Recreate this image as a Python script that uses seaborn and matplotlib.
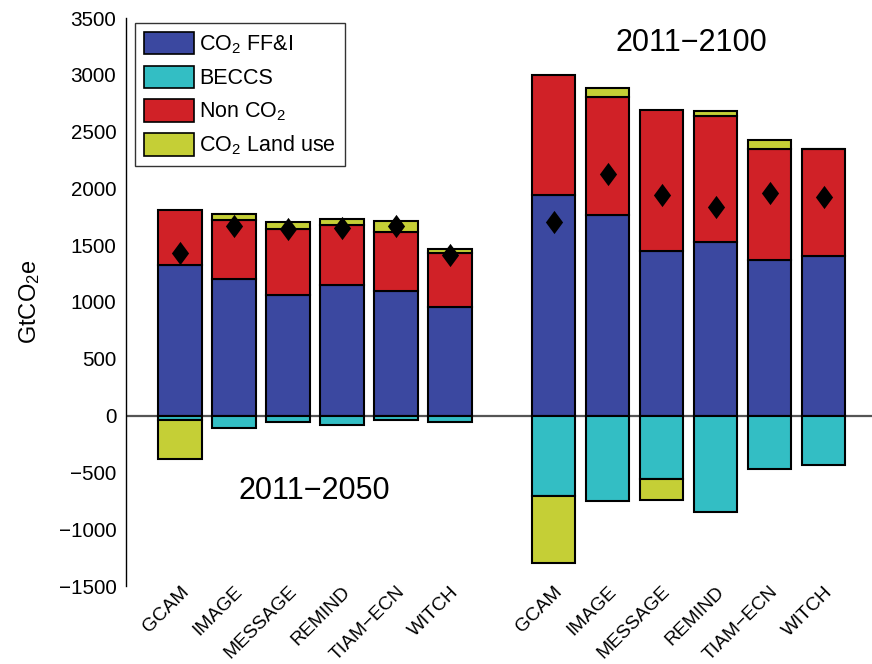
import numpy as np
import matplotlib
matplotlib.use("Agg")
import matplotlib.pyplot as plt
from matplotlib.path import Path
from matplotlib.patches import Patch
import seaborn as sns

# Cumulative emissions by model (GtCO2e)
models = ["GCAM", "IMAGE", "MESSAGE", "REMIND", "TIAM\u2212ECN", "WITCH"]
periods = ["2011\u22122050", "2011\u22122100"]

ffi_2050 = [1322, 1199, 1064, 1152, 1097, 956]
beccs_2050 = [-35, -108, -56, -79, -35, -53]
nonco2_2050 = [484, 519, 578, 525, 515, 472]
landuse_2050 = [-343, 56, 58, 50, 97, 41]
net_2050 = [1431, 1671, 1645, 1651, 1671, 1416]

ffi_2100 = [1938, 1768, 1451, 1525, 1372, 1407]
beccs_2100 = [-710, -754, -557, -850, -472, -434]
nonco2_2100 = [1064, 1035, 1243, 1114, 974, 939]
landuse_2100 = [-586, 85, -188, 41, 79, 0]
net_2100 = [1703, 2131, 1944, 1832, 1956, 1920]

labels = ["CO$_2$ FF&I", "BECCS", "Non CO$_2$", "CO$_2$ Land use"]
colors = ["#3b48a0", "#33bec4", "#d02127", "#c5cf36"]

sns.set_theme(style="white")
plt.rcParams["font.family"] = ["Liberation Sans", "DejaVu Sans"]
plt.rcParams["mathtext.fontset"] = "custom"
plt.rcParams["mathtext.rm"] = "Liberation Sans"
plt.rcParams["mathtext.it"] = "Liberation Sans:italic"
plt.rcParams["axes.unicode_minus"] = True
for key in ["text.color", "axes.labelcolor", "xtick.color", "ytick.color"]:
    plt.rcParams[key] = "black"

W_PX, H_PX = 872, 664
fig = plt.figure(figsize=(W_PX / 100, H_PX / 100), dpi=100)
ax = fig.add_axes([126 / W_PX, 1 - 586 / H_PX, 746 / W_PX, 568 / H_PX])

x1 = np.arange(1, 7, dtype=float)
x2 = x1 + 6.92
xs = np.concatenate([x1, x2])

ffi = np.array(ffi_2050 + ffi_2100, dtype=float)
beccs = np.array(beccs_2050 + beccs_2100, dtype=float)
nonco2 = np.array(nonco2_2050 + nonco2_2100, dtype=float)
landuse = np.array(landuse_2050 + landuse_2100, dtype=float)
net = np.array(net_2050 + net_2100, dtype=float)

ax.axhline(0, color="#555555", lw=1.6, zorder=1)

W = 0.8
kw = dict(width=W, edgecolor="black", linewidth=1.5, zorder=2)
ax.bar(xs, ffi, color=colors[0], **kw)
ax.bar(xs, beccs, color=colors[1], **kw)
ax.bar(xs, nonco2, bottom=ffi, color=colors[2], **kw)
lu_bottom = np.where(landuse >= 0, ffi + nonco2, beccs)
ax.bar(xs, landuse, bottom=lu_bottom, color=colors[3], **kw)

# Net total marker: a tall diamond
diamond = Path([(0, 1), (0.74, 0), (0, -1), (-0.74, 0), (0, 1)],
               [Path.MOVETO, Path.LINETO, Path.LINETO, Path.LINETO, Path.CLOSEPOLY])
sns.scatterplot(x=xs, y=net, marker=diamond, s=280, color="black",
                edgecolor="black", linewidth=0, zorder=4, ax=ax, legend=False)

ax.set_xlim(0, 746 / 54)
ax.set_ylim(-1500, 3500)
ax.set_yticks(np.arange(-1500, 3501, 500))
ax.tick_params(axis="y", length=0, pad=7, labelsize=14.9)
ax.set_xticks(xs)
ax.set_xticklabels(models * 2, rotation=45, ha="right", va="top",
                   rotation_mode="anchor", fontsize=13.8)
ax.tick_params(axis="x", length=0, pad=-2)

for side in ["top", "right", "bottom"]:
    ax.spines[side].set_visible(False)
ax.spines["left"].set_color("black")
ax.spines["left"].set_linewidth(1.0)

ax.set_ylabel("GtCO$_2$e", fontsize=17, labelpad=12)

fig.text(691 / W_PX, 1 - 43 / H_PX, periods[1], fontsize=22, ha="center", va="center")
fig.text(314 / W_PX, 1 - 491 / H_PX, periods[0], fontsize=22, ha="center", va="center")

handles = [Patch(facecolor=c, edgecolor="black", linewidth=1.2) for c in colors]
leg = ax.legend(handles, labels, loc="upper left", bbox_to_anchor=(135 / W_PX, 1 - 23 / H_PX),
                bbox_transform=fig.transFigure, fontsize=15.5, frameon=True, fancybox=False,
                handlelength=2.33, handleheight=1.25, handletextpad=0.25, labelspacing=0.45,
                borderpad=0.4, borderaxespad=0)
leg.get_frame().set_edgecolor("black")
leg.get_frame().set_linewidth(1.0)

fig.savefig("out.png", dpi=100)
